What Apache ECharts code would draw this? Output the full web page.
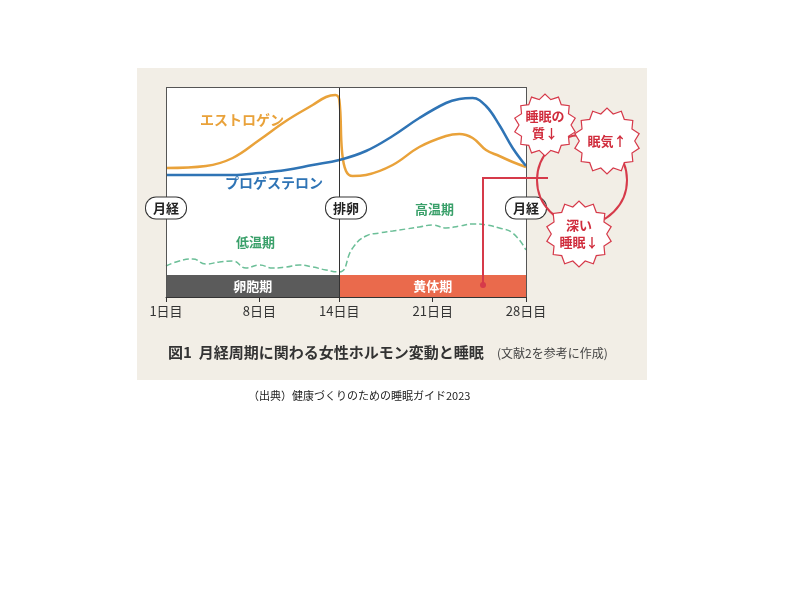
<!DOCTYPE html>
<html><head><meta charset="utf-8">
<script src="https://cdn.jsdelivr.net/npm/echarts@6/dist/echarts.min.js"></script>
<style>body{margin:0;background:#fff}#c{width:800px;height:600px}</style>
</head><body><div id="c"></div>
<script>
var days = [1,2,3,4,5,6,7,8,9,10,11,12,13,14,15,16,17,18,19,20,21,22,23,24,25,26,27,28];
var dayTicks = [1, 8, 14, 21, 28];
// estrogen level (relative units)
var estrogen = [[1,129],[4,131],[6,139],[8,157],[10,176],[12,192],[13,200],[13.7,202],[14,197],[14.2,146],[14.5,126],[15,121],[16,122],[18,132],[20,150],[22,161],[23,163],[24,159],[25,147],[26,141],[27,135],[28,130]];
var progesterone = [[1,122],[6,122],[8,124],[10,127],[12,132],[14,137],[16,146],[18,161],[20,179],[22,194],[23,198],[24,199],[25,191],[26,172],[27,149],[28,131]];
var temperature = [31,36,38,33,35,36,29,32,29,30,32,30,27,25,49,61,64,66,68,70,72,69,71,73,72,69,64,47];
var phases = [['卵胞期', 1, 14, '#5b5b5b'], ['黄体期', 14, 28, '#ea6a4c']];

function star(cx, cy, r, n) {
    var pts = [];
    for (var i = 0; i < n * 2; i++) {
        var a = Math.PI * i / n;
        var rr = i % 2 ? r : r * 0.84;
        pts.push([cx + rr * Math.cos(a), cy + rr * Math.sin(a)]);
    }
    return pts;
}
function bubble(cx, cy, r, text) {
    return {type: 'group', children: [
        {type: 'polygon', shape: {points: star(cx, cy, r, 14)}, style: {fill: '#fff', stroke: '#d63a4a', lineWidth: 1.2}, z: 20},
        {type: 'text', x: cx, y: cy, z: 21, style: {text: text, fill: '#d02c3c', font: 'bold 13px "Noto Sans CJK JP"', align: 'center', verticalAlign: 'middle', lineHeight: 17}}
    ]};
}
function tag(x, text) {
    return {type: 'text', x: x, y: 208, z: 10, style: {text: text, fill: '#222', font: 'bold 13px "Noto Sans CJK JP"', align: 'center', verticalAlign: 'middle',
        backgroundColor: '#fff', borderColor: '#333', borderWidth: 1, borderRadius: 10, padding: [4, 7]}};
}

var chart = echarts.init(document.getElementById('c'));
chart.setOption({
    backgroundColor: '#fff',
    animation: false,
    graphic: [
        {type: 'rect', shape: {x: 137, y: 68, width: 510, height: 312}, style: {fill: '#f2eee6'}, z: -10},
        {type: 'rect', shape: {x: 166, y: 87, width: 360, height: 210}, style: {fill: '#fff'}, z: -5},
        {type: 'polyline', shape: {points: [[483, 285], [483, 178], [548, 178]]}, style: {stroke: '#d63a4a', lineWidth: 2, fill: null}, z: 15},
        {type: 'circle', shape: {cx: 483, cy: 285, r: 3}, style: {fill: '#d63a4a'}, z: 15},
        {type: 'circle', shape: {cx: 582, cy: 180, r: 45}, style: {stroke: '#d63a4a', lineWidth: 2, fill: null}, z: 15},
        bubble(545, 125, 31, '睡眠の\n質↓'),
        bubble(607, 141, 33, '眠気↑'),
        bubble(579, 234, 33, '深い\n睡眠↓'),
        tag(166, '月経'), tag(346, '排卵'), tag(526, '月経'),
        {type: 'text', x: 200, y: 113, style: {text: 'エストロゲン', fill: '#e9a23a', font: 'bold 14px "Noto Sans CJK JP"'}},
        {type: 'text', x: 225, y: 176, style: {text: 'プロゲステロン', fill: '#2f74b5', font: 'bold 14px "Noto Sans CJK JP"'}},
        {type: 'text', x: 236, y: 236, style: {text: '低温期', fill: '#3aa06a', font: 'bold 13px "Noto Sans CJK JP"'}},
        {type: 'text', x: 415, y: 203, style: {text: '高温期', fill: '#3aa06a', font: 'bold 13px "Noto Sans CJK JP"'}},
        {type: 'text', x: 168, y: 345, style: {text: '図1  月経周期に関わる女性ホルモン変動と睡眠', fill: '#333', font: 'bold 15px "Noto Sans CJK JP"'}},
        {type: 'text', x: 497, y: 347, style: {text: '(文献2を参考に作成)', fill: '#444', font: '12px "Noto Sans CJK JP"'}},
        {type: 'text', x: 248, y: 390, style: {text: '（出典）健康づくりのための睡眠ガイド2023', fill: '#222', font: '11px "Noto Sans CJK JP"'}}
    ],
    grid: {left: 166, right: 274, top: 87, bottom: 303},
    xAxis: {type: 'value', min: 1, max: 28, interval: 1,
        axisLine: {lineStyle: {color: '#333'}},
        axisTick: {customValues: dayTicks, length: 5, lineStyle: {color: '#333'}},
        axisLabel: {customValues: dayTicks, formatter: '{value}日目', color: '#333', fontSize: 13, fontFamily: 'Noto Sans CJK JP', margin: 8},
        splitLine: {show: false}},
    yAxis: {type: 'value', min: 0, max: 210, show: false, splitLine: {show: false}},
    series: [
        {name: 'エストロゲン', type: 'line', smooth: 0.4, symbol: 'none', data: estrogen, lineStyle: {color: '#e9a23a', width: 2.5}, z: 3},
        {name: 'プロゲステロン', type: 'line', smooth: 0.4, symbol: 'none', data: progesterone, lineStyle: {color: '#2f74b5', width: 2.5}, z: 4},
        {name: '体温', type: 'line', smooth: true, symbol: 'none', data: days.map(function (d, i) { return [d, temperature[i]]; }),
            lineStyle: {color: '#6cbf98', width: 1.5, type: 'dashed'}, z: 2,
            markLine: {silent: true, symbol: 'none', label: {show: false}, lineStyle: {color: '#333', type: 'solid', width: 1}, data: [{xAxis: 14}]},
            markArea: {silent: true, data: phases.map(function (p) {
                return [{xAxis: p[1], yAxis: 0, name: p[0], itemStyle: {color: p[3], opacity: 1},
                    label: {position: 'inside', color: '#fff', fontSize: 13, fontWeight: 'bold', fontFamily: 'Noto Sans CJK JP'}},
                    {xAxis: p[2], yAxis: 22}];
            })}},
        {type: 'line', data: [], markLine: {silent: true, symbol: 'none', label: {show: false}, lineStyle: {color: '#555', type: 'solid', width: 1},
            data: [{yAxis: 210}, {xAxis: 1}, {xAxis: 28}]}}
    ]
});
</script></body></html>
